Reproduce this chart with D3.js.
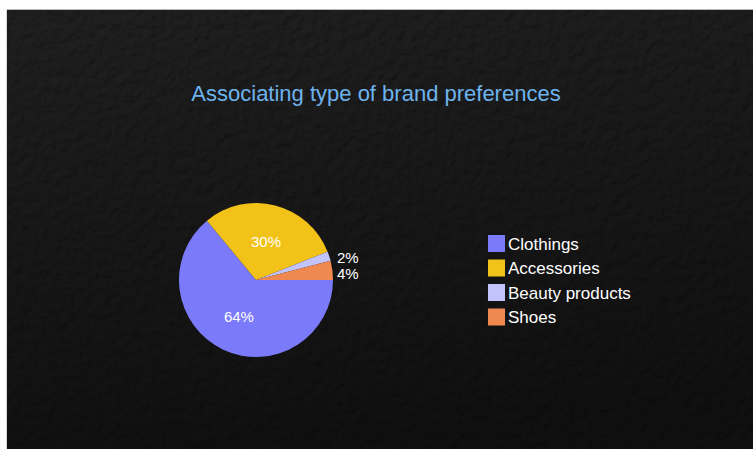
<!DOCTYPE html>
<html>
<head>
<meta charset="utf-8">
<script src="https://cdn.jsdelivr.net/npm/d3@7/dist/d3.min.js"></script>
<style>
  html, body { margin: 0; padding: 0; background: #ffffff; }
  svg { display: block; }
</style>
</head>
<body>
<svg id="chart" width="753" height="449"></svg>
<script>
// Brand preference shares (percent)
const categories = ["Clothings", "Accessories", "Beauty products", "Shoes"];
const shares = [64, 30, 2, 4];
const colors = ["#7a7afb", "#f2c219", "#c3c3fb", "#f0894f"];
const title = "Associating type of brand preferences";

const W = 753, H = 449;
const svg = d3.select("#chart");

// Panel background with a leather-like grain
const defs = svg.append("defs");
const grain = defs.append("filter").attr("id", "grain")
  .attr("x", 0).attr("y", 0).attr("width", "100%").attr("height", "100%");
grain.append("feTurbulence")
  .attr("type", "fractalNoise").attr("baseFrequency", "0.11")
  .attr("numOctaves", 3).attr("seed", 7).attr("result", "noise");
grain.append("feDiffuseLighting")
  .attr("in", "noise").attr("surfaceScale", 2.6)
  .attr("diffuseConstant", 1).attr("lighting-color", "#ffffff")
  .attr("result", "lit")
  .append("feDistantLight").attr("azimuth", 235).attr("elevation", 50);
grain.append("feColorMatrix").attr("in", "lit").attr("type", "saturate").attr("values", 0);

const shade = defs.append("linearGradient").attr("id", "shade")
  .attr("x1", "0.1").attr("y1", "0").attr("x2", "0.3").attr("y2", "1");
shade.append("stop").attr("offset", "0").attr("stop-color", "#000").attr("stop-opacity", 0);
shade.append("stop").attr("offset", "1").attr("stop-color", "#000").attr("stop-opacity", 0.5);

const panel = { x: 7, y: 10, w: W - 7, h: H - 10 };
svg.append("rect").attr("x", panel.x).attr("y", panel.y)
  .attr("width", panel.w).attr("height", panel.h).attr("fill", "#0b0b0b");
svg.append("rect").attr("x", panel.x).attr("y", panel.y)
  .attr("width", panel.w).attr("height", panel.h)
  .attr("filter", "url(#grain)").attr("opacity", 0.085);
svg.append("rect").attr("x", panel.x).attr("y", panel.y)
  .attr("width", panel.w).attr("height", panel.h).attr("fill", "url(#shade)");
svg.append("line").attr("x1", panel.x).attr("x2", W).attr("y1", 9.5).attr("y2", 9.5)
  .attr("stroke", "#b8b8b8");
svg.append("line").attr("x1", 6.5).attr("x2", 6.5).attr("y1", panel.y).attr("y2", H)
  .attr("stroke", "#d8d8d8");

// Title
svg.append("text")
  .attr("x", 376).attr("y", 101)
  .attr("text-anchor", "middle")
  .attr("font-family", "'Liberation Sans', Arial, sans-serif")
  .attr("font-size", 22)
  .attr("fill", "#6db4ee")
  .text(title);

// Pie: starts at 3 o'clock and runs clockwise in data order
const cx = 256, cy = 280, R = 77;
const data = categories.map((c, i) => ({ name: c, value: shares[i], color: colors[i] }));
const pie = d3.pie().value(d => d.value).sort(null)
  .startAngle(Math.PI / 2).endAngle(Math.PI / 2 + 2 * Math.PI);
const arcs = pie(data);
const arc = d3.arc().innerRadius(0).outerRadius(R);
const labelArc = d3.arc().innerRadius(R * 0.52).outerRadius(R * 0.52);

const g = svg.append("g").attr("transform", `translate(${cx},${cy})`);
g.selectAll("path.slice").data(arcs).join("path")
  .attr("class", "slice")
  .attr("d", arc)
  .attr("fill", d => d.data.color);

const total = d3.sum(shares);
const pct = d => Math.round(d.data.value / total * 100) + "%";
const fontLab = "'Liberation Sans', Arial, sans-serif";

// Large slices: labels inside
g.selectAll("text.inside").data(arcs.filter(d => d.data.value / total >= 0.1)).join("text")
  .attr("class", "inside")
  .attr("transform", d => `translate(${labelArc.centroid(d)})`)
  .attr("text-anchor", "middle").attr("dy", "0.36em")
  .attr("font-family", fontLab).attr("font-size", 15)
  .attr("fill", "#ffffff")
  .text(pct);

// Small slices: labels outside to the right, spread so they don't overlap
const small = arcs.filter(d => d.data.value / total < 0.1).map(d => {
  const a = (d.startAngle + d.endAngle) / 2;
  return { d, y: -(R * 0.85) * Math.cos(a) };
}).sort((a, b) => a.y - b.y);
const gap = 16;
for (let i = 1; i < small.length; i++) {
  if (small[i].y - small[i - 1].y < gap) {
    const mid = (small[i].y + small[i - 1].y) / 2;
    small[i - 1].y = mid - gap / 2;
    small[i].y = mid + gap / 2;
  }
}
g.selectAll("text.outside").data(small).join("text")
  .attr("class", "outside")
  .attr("x", R + 4).attr("y", s => s.y)
  .attr("dy", "0.36em")
  .attr("font-family", fontLab).attr("font-size", 15)
  .attr("fill", "#ffffff")
  .text(s => pct(s.d));

// Legend
const legend = svg.append("g").attr("transform", "translate(488,235)");
const rowH = 24.5;
const rows = legend.selectAll("g").data(data).join("g")
  .attr("transform", (d, i) => `translate(0,${i * rowH})`);
rows.append("rect").attr("width", 17).attr("height", 17).attr("fill", d => d.color);
rows.append("text").attr("x", 20).attr("y", 8.5).attr("dy", "0.36em")
  .attr("font-family", fontLab).attr("font-size", 17)
  .attr("fill", "#ffffff")
  .text(d => d.name);
</script>
</body>
</html>
